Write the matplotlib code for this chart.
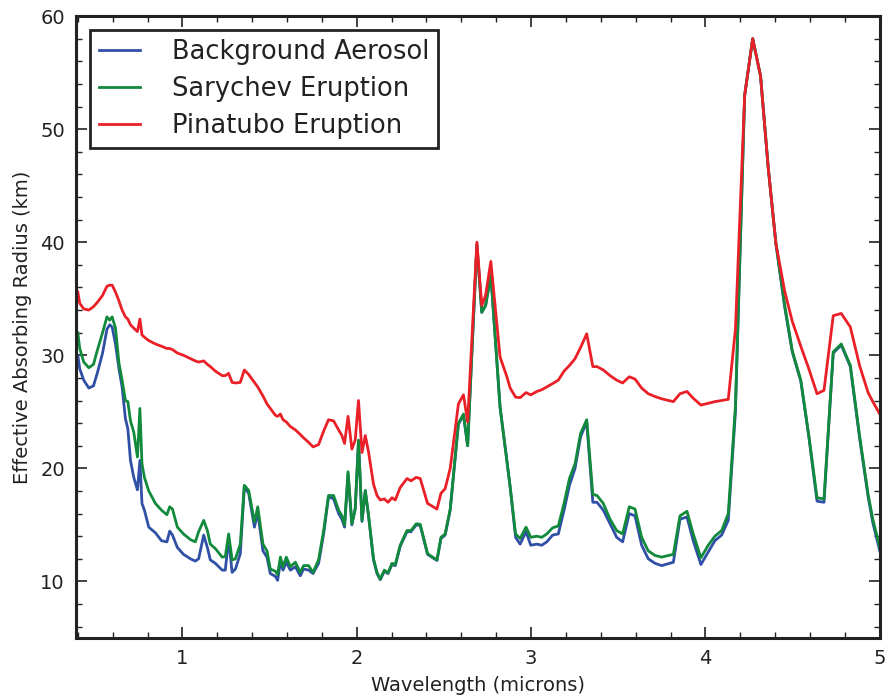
import matplotlib
matplotlib.use("Agg")
import matplotlib.pyplot as plt
from matplotlib.ticker import MultipleLocator

# wavelength grid (microns)
wavelength = [
    0.400, 0.411, 0.434, 0.463, 0.490, 0.513, 0.542, 0.567, 0.583, 0.597,
    0.616, 0.636, 0.654, 0.673, 0.687, 0.702, 0.721, 0.742, 0.756, 0.768,
    0.782, 0.807, 0.845, 0.880, 0.911, 0.927, 0.943, 0.971, 1.006, 1.046,
    1.074, 1.093, 1.122, 1.143, 1.160, 1.189, 1.228, 1.246, 1.265, 1.285,
    1.304, 1.332, 1.355, 1.380, 1.413, 1.432, 1.462, 1.485, 1.504, 1.533,
    1.546, 1.562, 1.577, 1.596, 1.619, 1.648, 1.676, 1.695, 1.724, 1.749,
    1.781, 1.810, 1.838, 1.867, 1.896, 1.915, 1.930, 1.950, 1.972, 1.991,
    2.010, 2.030, 2.049, 2.068, 2.096, 2.116, 2.135, 2.158, 2.179, 2.202,
    2.221, 2.249, 2.288, 2.311, 2.341, 2.364, 2.406, 2.460, 2.483, 2.507,
    2.536, 2.583, 2.612, 2.636, 2.689, 2.717, 2.739, 2.769, 2.822, 2.861,
    2.880, 2.911, 2.937, 2.971, 2.998, 3.033, 3.061, 3.090, 3.124, 3.156,
    3.189, 3.220, 3.252, 3.284, 3.319, 3.354, 3.378, 3.414, 3.453, 3.491,
    3.525, 3.563, 3.596, 3.634, 3.672, 3.711, 3.749, 3.816, 3.854, 3.894,
    3.930, 3.974, 4.016, 4.054, 4.093, 4.131, 4.172, 4.225, 4.271, 4.316,
    4.360, 4.404, 4.454, 4.498, 4.547, 4.593, 4.640, 4.680, 4.733, 4.779,
    4.831, 4.884, 4.933, 4.960, 5.000,
]

background = [
    30.0, 28.8, 27.8, 27.1, 27.3, 28.5, 30.2, 32.3, 32.7, 32.5,
    31.0, 28.8, 27.2, 24.4, 23.5, 20.7, 19.2, 18.1, 20.7, 16.9,
    16.3, 14.8, 14.3, 13.6, 13.5, 14.45, 14.1, 13.0, 12.4, 12.0,
    11.8, 12.0, 14.1, 13.0, 11.9, 11.6, 11.0, 11.0, 13.8, 10.8,
    11.1, 12.45, 18.35, 17.8, 14.8, 16.1, 12.7, 12.15, 10.7, 10.45,
    10.1, 11.7, 11.0, 11.7, 11.0, 11.3, 10.5, 11.1, 11.0, 10.7,
    11.6, 14.2, 17.5, 17.3, 16.0, 15.5, 14.8, 19.5, 15.0, 16.4,
    22.4, 15.3, 18.0, 15.7, 11.9, 10.7, 10.15, 10.9, 10.7, 11.5,
    11.4, 13.1, 14.4, 14.4, 15.0, 14.95, 12.4, 11.85, 13.8, 14.1,
    16.3, 23.9, 24.7, 22.0, 39.8, 33.8, 34.4, 37.1, 25.4, 20.7,
    18.3, 13.9, 13.3, 14.4, 13.2, 13.3, 13.2, 13.5, 14.1, 14.2,
    16.3, 18.5, 20.0, 22.8, 24.1, 17.0, 17.0, 16.3, 15.1, 13.9,
    13.5, 16.0, 15.8, 13.2, 12.0, 11.6, 11.4, 11.7, 15.5, 15.7,
    13.6, 11.5, 12.6, 13.6, 14.1, 15.4, 25.0, 53.0, 58.0, 54.7,
    46.6, 39.9, 34.3, 30.3, 27.7, 22.8, 17.1, 17.0, 30.2, 30.9,
    29.0, 22.7, 17.5, 15.2, 12.7,
]

sarychev = [
    32.0, 30.6, 29.4, 28.9, 29.2, 30.5, 32.0, 33.4, 33.1, 33.4,
    32.4, 29.3, 27.8, 26.0, 25.9, 24.2, 23.2, 21.0, 25.3, 20.4,
    19.2, 18.0, 16.9, 16.3, 15.9, 16.6, 16.4, 14.8, 14.2, 13.7,
    13.5, 14.4, 15.4, 14.5, 13.3, 12.9, 12.15, 12.2, 14.2, 11.9,
    12.0, 13.3, 18.5, 18.05, 15.25, 16.6, 13.3, 12.7, 11.1, 10.9,
    10.6, 12.15, 11.3, 12.15, 11.3, 11.7, 10.8, 11.4, 11.4, 10.8,
    11.9, 14.5, 17.6, 17.6, 16.3, 15.8, 15.0, 19.7, 15.1, 16.4,
    22.5, 15.4, 18.05, 15.8, 12.0, 10.8, 10.2, 11.0, 10.75, 11.6,
    11.5, 13.2, 14.5, 14.5, 15.1, 15.05, 12.45, 11.9, 13.9, 14.2,
    16.4, 24.0, 24.8, 22.0, 39.8, 33.8, 34.4, 37.1, 25.4, 20.7,
    18.35, 14.2, 13.8, 14.8, 13.9, 14.0, 13.9, 14.2, 14.75, 14.9,
    16.9, 19.1, 20.4, 23.1, 24.3, 17.7, 17.6, 16.9, 15.5, 14.5,
    14.2, 16.6, 16.4, 13.9, 12.7, 12.3, 12.15, 12.4, 15.8, 16.2,
    14.2, 12.1, 13.2, 14.0, 14.5, 16.0, 25.5, 53.0, 58.0, 54.7,
    46.6, 39.9, 34.5, 30.4, 27.8, 22.9, 17.4, 17.3, 30.3, 31.0,
    29.1, 22.9, 17.7, 15.5, 13.0,
]

pinatubo = [
    35.6, 34.6, 34.1, 34.0, 34.3, 34.7, 35.3, 36.1, 36.2, 36.2,
    35.6, 34.8, 34.0, 33.4, 33.2, 32.7, 32.4, 32.1, 33.2, 31.8,
    31.6, 31.3, 31.0, 30.8, 30.6, 30.6, 30.5, 30.2, 30.0, 29.7,
    29.5, 29.4, 29.5, 29.2, 29.0, 28.6, 28.2, 28.2, 28.4, 27.6,
    27.55, 27.6, 28.7, 28.3, 27.6, 27.2, 26.4, 25.7, 25.3, 24.7,
    24.6, 24.8, 24.3, 24.1, 23.7, 23.4, 23.0, 22.7, 22.3, 21.9,
    22.1, 23.3, 24.3, 24.2, 23.4, 22.9, 22.2, 24.6, 21.7, 22.5,
    26.0, 21.4, 22.9, 21.4, 18.6, 17.6, 17.2, 17.3, 17.0, 17.4,
    17.2, 18.3, 19.1, 18.9, 19.2, 19.1, 16.9, 16.4, 17.8, 18.2,
    20.0, 25.7, 26.5, 24.1, 40.0, 34.4, 35.3, 38.3, 29.85, 28.1,
    27.1, 26.3, 26.25, 26.7, 26.5, 26.8, 26.95, 27.2, 27.5, 27.8,
    28.6, 29.1, 29.7, 30.7, 31.9, 29.0, 29.0, 28.7, 28.2, 27.8,
    27.55, 28.1, 27.9, 27.1, 26.6, 26.35, 26.15, 25.9, 26.6, 26.8,
    26.2, 25.6, 25.75, 25.9, 26.0, 26.1, 32.3, 53.0, 58.0, 54.7,
    46.6, 39.9, 35.7, 33.0, 30.8, 28.8, 26.6, 26.9, 33.5, 33.7,
    32.5, 29.1, 26.7, 25.9, 24.8,
]

plt.rcParams['font.family'] = 'DejaVu Sans'

fig = plt.figure(figsize=(8.95, 6.98), dpi=100)
ax = fig.add_axes([0.085, 0.086, 0.898, 0.891])

ax.plot(wavelength, background, color='#3050a6', lw=2.0, label='Background Aerosol')
ax.plot(wavelength, sarychev, color='#118a3c', lw=2.0, label='Sarychev Eruption')
ax.plot(wavelength, pinatubo, color='#ea2028', lw=2.0, label='Pinatubo Eruption')

ax.set_xlim(0.39, 5)
ax.set_ylim(5, 60)
ax.set_xticks([1, 2, 3, 4, 5])
ax.set_yticks([10, 20, 30, 40, 50, 60])
ax.xaxis.set_minor_locator(MultipleLocator(0.2))
ax.yaxis.set_minor_locator(MultipleLocator(2))
ax.tick_params(which='both', direction='in', top=True, right=True, labelsize=14, colors='#222222')
ax.tick_params(which='major', length=8, width=1.2, pad=8)
ax.tick_params(which='minor', length=4, width=1.0)
for s in ax.spines.values():
    s.set_linewidth(2.2)
    s.set_color('#222222')

ax.set_xlabel('Wavelength (microns)', fontsize=14, color='#222222', labelpad=6)
ax.set_ylabel('Effective Absorbing Radius (km)', fontsize=14, color='#222222', labelpad=6)

leg = ax.legend(loc='upper left', fontsize=18.5, fancybox=False, handlelength=1.6,
                handletextpad=1.25, borderpad=0.33, labelspacing=0.44,
                borderaxespad=0.55)
leg.get_frame().set_edgecolor('#222222')
leg.get_frame().set_linewidth(2.0)
leg.get_frame().set_alpha(1)
for t in leg.get_texts():
    t.set_color('#222222')

fig.savefig('out.png', dpi=100)
